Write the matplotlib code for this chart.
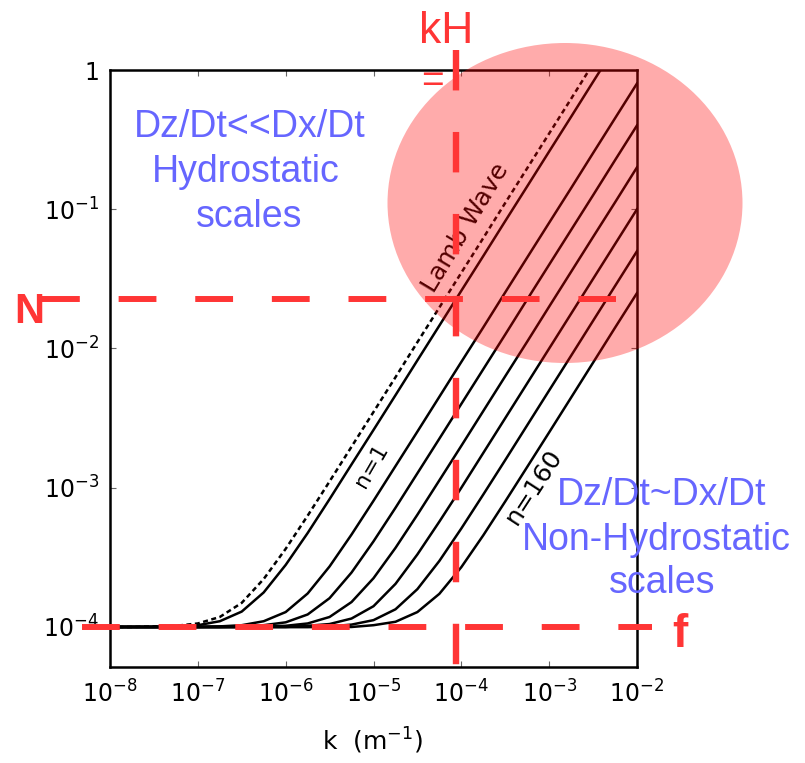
import matplotlib.pyplot as plt
import numpy as np
from matplotlib.patches import Ellipse
from matplotlib.lines import Line2D
from matplotlib.transforms import blended_transform_factory

W, H = 805, 763
nan = np.nan

# wavenumber k (m^-1), quarter decade steps
k = [1e-8, 1.78e-8, 3.16e-8, 5.62e-8,
     1e-7, 1.78e-7, 3.16e-7, 5.62e-7,
     1e-6, 1.78e-6, 3.16e-6, 5.62e-6,
     1e-5, 1.78e-5, 3.16e-5, 5.62e-5,
     1e-4, 1.78e-4, 3.16e-4, 5.62e-4,
     1e-3, 1.78e-3, 3.16e-3, 5.62e-3, 1e-2]

# frequency, in units of 1e-4 s^-1
lamb = [1.00, 1.00, 1.01, 1.02, 1.06, 1.18, 1.49, 2.21, 3.64, 6.30, 11.1, 19.7,
        35.0, 62.2, 111, 197, 350, 622, 1110, 1970, 3500, 6220, 11100, nan, nan]
n1 = [1.00, 1.00, 1.00, 1.01, 1.03, 1.10, 1.29, 1.77, 2.79, 4.73, 8.28, 14.7,
      26.0, 46.2, 82.2, 146, 260, 462, 822, 1460, 2600, 4620, 8220, 14600, nan]
n2 = [1.00, 1.00, 1.00, 1.00, 1.00, 1.01, 1.03, 1.10, 1.28, 1.74, 2.72, 4.61,
      8.06, 14.3, 25.3, 45.0, 80.1, 142, 253, 450, 800, 1420, 2530, 4500, 8000]
n3 = [1.00, 1.00, 1.00, 1.00, 1.00, 1.00, 1.01, 1.03, 1.08, 1.23, 1.61, 2.46,
      4.12, 7.18, 12.7, 22.5, 40.0, 71.1, 126, 225, 400, 711, 1260, 2250, 4000]
n4 = [1.00, 1.00, 1.00, 1.00, 1.00, 1.00, 1.00, 1.01, 1.02, 1.06, 1.18, 1.51,
      2.24, 3.70, 6.40, 11.3, 20.0, 35.6, 63.2, 112, 200, 356, 632, 1120, 2000]
n5 = [1.00, 1.00, 1.00, 1.00, 1.00, 1.00, 1.00, 1.00, 1.00, 1.02, 1.05, 1.15,
      1.41, 2.04, 3.32, 5.71, 10.0, 17.8, 31.6, 56.2, 100, 178, 316, 562, 1000]
n6 = [1.00, 1.00, 1.00, 1.00, 1.00, 1.00, 1.00, 1.00, 1.00, 1.00, 1.01, 1.04,
      1.12, 1.34, 1.87, 2.98, 5.10, 8.95, 15.8, 28.1, 50.0, 88.9, 158, 281, 500]
n160 = [1.00, 1.00, 1.00, 1.00, 1.00, 1.00, 1.00, 1.00, 1.00, 1.00, 1.00, 1.00,
        1.03, 1.09, 1.28, 1.73, 2.69, 4.56, 7.97, 14.1, 25.0, 44.5, 79.1, 141, 250]
solid = [n1, n2, n3, n4, n5, n6, n160]

f0 = 1e-4      # Coriolis f
N0 = 0.0227    # buoyancy N
kH = 8.6e-5

xticks = [1e-8, 1e-7, 1e-6, 1e-5, 1e-4, 1e-3, 1e-2]
xlabels = ['10$^{-8}$', '10$^{-7}$', '10$^{-6}$', '10$^{-5}$', '10$^{-4}$', '10$^{-3}$', '10$^{-2}$']
yticks = [1e-4, 1e-3, 1e-2, 1e-1, 1]
ylabels = ['10$^{-4}$', '10$^{-3}$', '10$^{-2}$', '10$^{-1}$', '1']


def px(x, y):
    return x / W, 1 - y / H


red = '#ff3535'
blue = '#6666ff'

fig = plt.figure(figsize=(W / 100, H / 100), dpi=100)
ax = fig.add_axes([110 / W, 1 - 667 / H, 527 / W, 597 / H])
ax.set_xscale('log')
ax.set_yscale('log')
ax.set_xlim(1e-8, 1e-2)
ax.set_ylim(5.16e-5, 1)

kk = np.array(k)
ax.plot(kk, np.array(lamb) * 1e-4, color='k', lw=1.8, ls=(0, (2.0, 1.4)))
for s in solid:
    ax.plot(kk, np.array(s) * 1e-4, color='k', lw=1.8)

ax.set_xticks(xticks)
ax.set_xticklabels(xlabels)
ax.set_yticks(yticks)
ax.set_yticklabels(ylabels)
ax.minorticks_off()
ax.tick_params(direction='in', top=True, right=True, length=4, width=0.8,
               color='#666666', labelsize=17)
ax.tick_params(axis='y', pad=8)
ax.tick_params(axis='x', pad=10)
for sp in ax.spines.values():
    sp.set_linewidth(1.8)

fig.text(*px(372, 750), 'k  (m$^{-1}$)', fontsize=18, ha='center', va='baseline')

# curve labels
ax.text(*px(466, 228), 'Lamb Wave', transform=fig.transFigure, fontsize=18,
        rotation=59, ha='center', va='center')
ax.text(*px(372, 466), 'n=1', transform=fig.transFigure, fontsize=16,
        rotation=60, ha='center', va='center')
ax.text(*px(534, 487), 'n=160', transform=fig.transFigure, fontsize=18,
        rotation=57, ha='center', va='center')

# pink highlight
fig.add_artist(Ellipse(px(565, 203), 355 / W, 320 / H, transform=fig.transFigure,
                       facecolor='#ff0000', alpha=0.33, edgecolor='none', zorder=5))

# red dashed guide lines
dash = (0, (6.33, 6.5))
hx = blended_transform_factory(fig.transFigure, ax.transData)
vx = blended_transform_factory(ax.transData, fig.transFigure)
fig.add_artist(Line2D([42 / W, 616 / W], [N0, N0], transform=hx, color=red,
                      lw=4.3, ls=dash, zorder=6))
fig.add_artist(Line2D([82 / W, 652 / W], [f0, f0], transform=hx, color=red,
                      lw=4.3, ls=dash, zorder=6))
fig.add_artist(Line2D([kH, kH], [1 - 50 / H, 1 - 703 / H], transform=vx, color=red,
                      lw=4.6, ls=dash, zorder=6))

tf = dict(family=['Liberation Sans', 'DejaVu Sans'], zorder=7)
fig.text(*px(446, 43), 'kH', color=red, fontsize=32, ha='center', va='baseline', **tf)
fig.text(*px(432, 92), '=', color=red, fontsize=28, ha='center', va='baseline', **tf)
fig.text(*px(29, 323), 'N', color=red, fontsize=30, fontweight='bold', ha='center', va='baseline', **tf)
fig.text(*px(680, 647), 'f', color=red, fontsize=33, fontweight='bold', ha='center', va='baseline', **tf)

for txt, x, y in [('Dz/Dt<<Dx/Dt', 250, 137), ('Hydrostatic', 246, 182), ('scales', 249, 227),
                  ('Dz/Dt~Dx/Dt', 662, 505), ('Non-Hydrostatic', 656, 550), ('scales', 662, 593)]:
    fig.text(*px(x, y), txt, color=blue, fontsize=27, ha='center', va='baseline', **tf)

fig.savefig('out.png', dpi=100)
